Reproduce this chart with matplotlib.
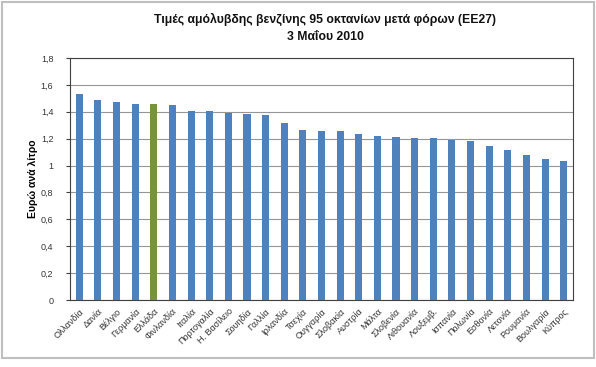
import matplotlib
matplotlib.use("Agg")
import matplotlib.pyplot as plt
import matplotlib.patches as patches

plt.rcParams['font.family'] = ['Liberation Sans', 'DejaVu Sans']

# countries, left to right as in the chart
countries = ['Ολλανδία', 'Δανία', 'Βέλγιο', 'Γερμανία', 'Ελλάδα', 'Φινλανδία',
             'Ιταλία', 'Πορτογαλία', 'Η. Βασίλειο', 'Σουηδία', 'Γαλλία', 'Ιρλανδία',
             'Τσεχία', 'Ουγγαρία', 'Σλοβακία', 'Αυστρία', 'Μάλτα', 'Σλοβενία',
             'Λιθουανία', 'Λουξεμβ.', 'Ισπανία', 'Πολωνία', 'Εσθονία', 'Λετονία',
             'Ρουμανία', 'Βουλγαρία', 'Κύπρος']
# euro per litre
prices = [1.530, 1.488, 1.473, 1.458, 1.456, 1.448,
          1.404, 1.403, 1.394, 1.386, 1.376, 1.319,
          1.265, 1.260, 1.259, 1.233, 1.220, 1.210,
          1.203, 1.203, 1.188, 1.180, 1.143, 1.118,
          1.079, 1.051, 1.036]
highlight = 'Ελλάδα'

yticks = [0, 0.2, 0.4, 0.6, 0.8, 1.0, 1.2, 1.4, 1.6, 1.8]
ytick_labels = ['0', '0,2', '0,4', '0,6', '0,8', '1', '1,2', '1,4', '1,6', '1,8']

BLUE = '#4F81BD'
GREEN = '#77933C'

fig = plt.figure(figsize=(5.96, 3.67), dpi=100)
fig.patch.set_facecolor('white')

# outer chart border
fig.patches.append(patches.Rectangle((2/596, 1 - 358/367), 592/596, 356/367,
                                     transform=fig.transFigure, fill=False,
                                     edgecolor='#BFBFBF', linewidth=1.5))

ax = fig.add_axes([70/596, 1 - 300/367, 503/596, 242/367])

colors = [GREEN if c == highlight else BLUE for c in countries]
x = range(len(countries))
ax.bar(x, prices, width=0.38, color=colors, zorder=3)

ax.set_xlim(-0.5, len(countries) - 0.5)
ax.set_ylim(0, 1.8)
ax.set_yticks(yticks)
ax.set_yticklabels(ytick_labels, fontsize=6.5, color='#333333')
ax.yaxis.grid(True, color='#969696', linewidth=0.8, zorder=0)
ax.set_xticks(list(x))
ax.set_xticklabels(countries, rotation=45, ha='right', rotation_mode='anchor',
                   fontsize=6.5, color='#333333')
ax.tick_params(axis='y', length=3, width=0.8, color='#404040', pad=9)
ax.tick_params(axis='x', length=0, pad=5)
for s in ax.spines.values():
    s.set_color('#404040')
    s.set_linewidth(0.8)

ax.set_ylabel('Ευρώ ανά λίτρο', fontsize=7.5, fontweight='bold')
ax.yaxis.set_label_coords(-0.064, 0.5)

fig.text(325/596, 1 - 19/367, 'Τιμές αμόλυβδης βενζίνης 95 οκτανίων μετά φόρων (ΕΕ27)',
         ha='center', va='center', fontsize=8.8, fontweight='bold', color='#111111')
fig.text(325/596, 1 - 37/367, '3 Μαΐου 2010',
         ha='center', va='center', fontsize=8.8, fontweight='bold', color='#111111')

fig.savefig('out.png', dpi=100, facecolor='white')
